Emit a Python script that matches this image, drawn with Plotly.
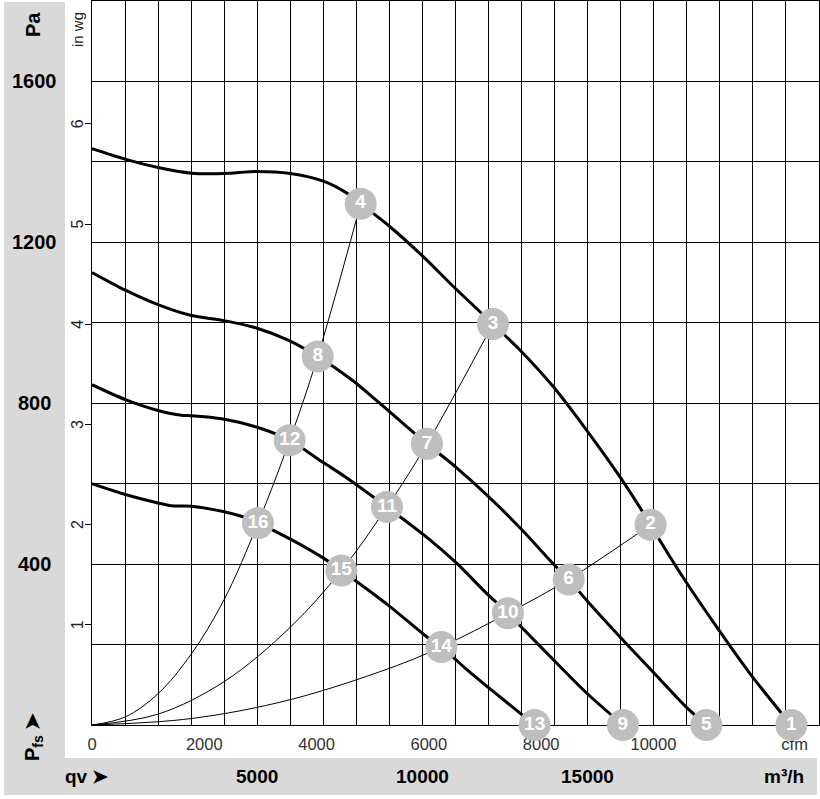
import plotly.graph_objects as go

# ---------------- data (m³/h, Pa) ----------------
c1_q = [0, 1000, 2000, 3000, 4000, 5000, 6000, 7000, 7700, 8130, 9000, 10015, 10974, 12133,
        12941, 13949, 14959, 15967, 16904, 17177, 17933, 18892, 19900, 20859, 21162]
c1_p = [1433, 1407, 1386, 1372, 1371, 1376, 1371, 1352, 1323, 1296, 1240, 1165, 1087, 997,
        933, 842, 734, 618, 498, 460, 361, 245, 129, 30, 0]

c2_q = [0, 1010, 1997, 3008, 3955, 4974, 5952, 6829, 7849, 9001, 10136, 11000, 12000, 13000,
        14000, 14424, 15000, 16000, 17000, 18000, 18590]
c2_p = [1125, 1081, 1045, 1018, 1006, 987, 956, 916, 859, 779, 699, 642, 568, 486,
        397, 362, 307, 217, 130, 43, 0]

c3_q = [0, 1010, 1997, 2705, 3008, 3964, 4974, 5982, 6989, 7646, 8926, 10218, 11026, 11933,
        12587, 13000, 14000, 15000, 16066]
c3_p = [846, 809, 782, 770, 769, 761, 741, 708, 653, 618, 542, 461, 403, 328,
        278, 243, 159, 77, 0]

c4_q = [0, 1010, 1997, 2402, 3008, 3964, 4520, 5023, 6033, 7041, 7546, 9008, 10118, 10572,
        11300, 12000, 13395]
c4_p = [600, 573, 552, 545, 544, 531, 519, 502, 461, 413, 384, 295, 220, 194,
        141, 93, 0]

# system (thin) curves
sa_q = [0, 1000, 2000, 3000, 4000, 5023, 5982, 6829, 8130]
sa_p = [0, 20, 78, 176, 312, 502, 708, 916, 1296]
sb_q = [0, 2000, 4000, 6000, 7546, 8926, 10136, 12133]
sb_p = [0, 27, 108, 243, 384, 542, 699, 997]
sc_q = [0, 3000, 6000, 9000, 10572, 12587, 14424, 16904]
sc_p = [0, 16, 63, 141, 194, 278, 362, 498]

# numbered operating points
pt_lab = ["1", "2", "3", "4", "5", "6", "7", "8", "9", "10", "11", "12", "13", "14", "15", "16"]
pt_q = [21162, 16904, 12133, 8130, 18590, 14424, 10136, 6829, 16066, 12587, 8926, 5982,
        13395, 10572, 7546, 5023]
pt_p = [0, 498, 997, 1296, 0, 362, 699, 916, 0, 278, 542, 708, 0, 194, 384, 502]

# axis labels
pa_ticks = [400, 800, 1200, 1600]
m3h_ticks = [5000, 10000, 15000]
inwg_ticks = [1, 2, 3, 4, 5, 6]
cfm_ticks = [0, 2000, 4000, 6000, 8000, 10000]
cfm_unit_pos = 12515  # where the "cfm" unit label sits, in cfm
CFM_TO_M3H = 1.69901
INWG_TO_PA = 249.089

FONT = "Liberation Sans, Arial, sans-serif"
GRAY_BAND = "#d9d9d9"
CIRCLE = "#bebebe"

fig = go.Figure()

# dummy trace for the m³/h grid axis
fig.add_trace(go.Scatter(x=[None], y=[None], xaxis="x2", showlegend=False, hoverinfo="skip"))
# dummy trace for the in wg axis
fig.add_trace(go.Scatter(x=[None], y=[None], yaxis="y2", showlegend=False, hoverinfo="skip"))

for q, p in [(sa_q, sa_p), (sb_q, sb_p), (sc_q, sc_p)]:
    fig.add_trace(go.Scatter(x=q, y=p, mode="lines", line=dict(color="black", width=1, shape="spline"),
                             hoverinfo="skip", showlegend=False, cliponaxis=False))

for q, p in [(c1_q, c1_p), (c2_q, c2_p), (c3_q, c3_p), (c4_q, c4_p)]:
    fig.add_trace(go.Scatter(x=q, y=p, mode="lines", line=dict(color="black", width=3, shape="spline",
                                                                 smoothing=0.8),
                             hoverinfo="skip", showlegend=False, cliponaxis=False))

fig.add_trace(go.Scatter(x=pt_q, y=pt_p, mode="markers+text", text=pt_lab,
                         textposition="middle center",
                         marker=dict(size=32, color=CIRCLE, line=dict(width=0)),
                         textfont=dict(family=FONT, size=19, color="white", weight="bold"),
                         hoverinfo="skip", showlegend=False, cliponaxis=False))

L, R, T, B = 92, 1, 1, 74
W, H = 820, 799
PW, PH = W - L - R, H - T - B


def px(xp):
    return (xp - L) / PW


def py(yp):
    return (H - B - yp) / PH


shapes = [
    dict(type="rect", xref="paper", yref="paper", x0=px(4), x1=px(65), y0=py(795), y1=py(2),
         fillcolor=GRAY_BAND, line=dict(width=0), layer="below"),
    dict(type="rect", xref="paper", yref="paper", x0=px(4), x1=px(817), y0=py(795), y1=py(758),
         fillcolor=GRAY_BAND, line=dict(width=0), layer="below"),
]

C = dict(xanchor="center", yanchor="middle", showarrow=False)
ann = []
ann.append(dict(text="<b>Pa</b>", xref="paper", yref="paper", x=px(33), y=py(25), textangle=-90,
                font=dict(family=FONT, size=20, color="black"), **C))
for v in pa_ticks:
    ann.append(dict(text=f"<b>{v}</b>", xref="paper", yref="y", x=px(35), y=v,
                    font=dict(family=FONT, size=20, color="black"), **C))
ann.append(dict(text="<b>P<sub>fs</sub> ➤</b>", xref="paper", yref="paper", x=px(33), y=py(737),
                textangle=-90, font=dict(family=FONT, size=20, color="black"), **C))
ann.append(dict(text="in wg", xref="paper", yref="paper", x=px(77.5), y=py(29.5), textangle=-90,
                font=dict(family=FONT, size=15, color="#222222"), **C))
for v in inwg_ticks:
    ann.append(dict(text=str(v), xref="paper", yref="y2", x=px(77.5), y=v, textangle=-90,
                    font=dict(family=FONT, size=16, color="#222222"), **C))
ann.append(dict(text="<b>qv ➤</b>", xref="paper", yref="paper", x=px(86), y=py(776),
                font=dict(family=FONT, size=19, color="black"), **C))
for v in m3h_ticks:
    ann.append(dict(text=f"<b>{v}</b>", xref="x", yref="paper", x=v, y=py(776),
                    font=dict(family=FONT, size=19, color="black"), **C))
ann.append(dict(text="<b>m³/h</b>", xref="paper", yref="paper", x=px(784), y=py(776),
                font=dict(family=FONT, size=19, color="black"), **C))

cfm_vals = [t * CFM_TO_M3H for t in cfm_ticks] + [cfm_unit_pos * CFM_TO_M3H]
cfm_text = [str(t) for t in cfm_ticks] + ["cfm"]

fig.update_layout(
    width=W, height=H,
    margin=dict(l=L, r=R, t=T, b=B),
    paper_bgcolor="white", plot_bgcolor="white",
    shapes=shapes, annotations=ann,
    xaxis=dict(range=[0, 22000], tickmode="array", tickvals=cfm_vals, ticktext=cfm_text,
               ticks="outside", ticklen=4, tickcolor="rgba(0,0,0,0)",
               tickfont=dict(family=FONT, size=16.5, color="#333333"),
               showgrid=False, zeroline=False, showline=True, linecolor="black",
               linewidth=1, mirror=True, fixedrange=True, layer="below traces"),
    xaxis2=dict(range=[0, 22000], overlaying="x", side="bottom", anchor="y", dtick=1000, tick0=0,
                showgrid=True, gridcolor="black", gridwidth=1, showticklabels=False, ticks="",
                zeroline=False, showline=False, fixedrange=True),
    yaxis=dict(range=[0, 1800], dtick=200, tick0=0, showgrid=True, gridcolor="black", gridwidth=1,
               showticklabels=False, ticks="", zeroline=False, showline=True, linecolor="black",
               linewidth=1, mirror=True, fixedrange=True),
    yaxis2=dict(range=[0, 1800 / INWG_TO_PA], overlaying="y", side="left", anchor="x",
                tickvals=inwg_ticks, ticks="outside", ticklen=6, tickcolor="black", tickwidth=1,
                showticklabels=False, showgrid=False, zeroline=False, showline=False, fixedrange=True),
    font=dict(family=FONT),
)

fig.write_html("out.html")
